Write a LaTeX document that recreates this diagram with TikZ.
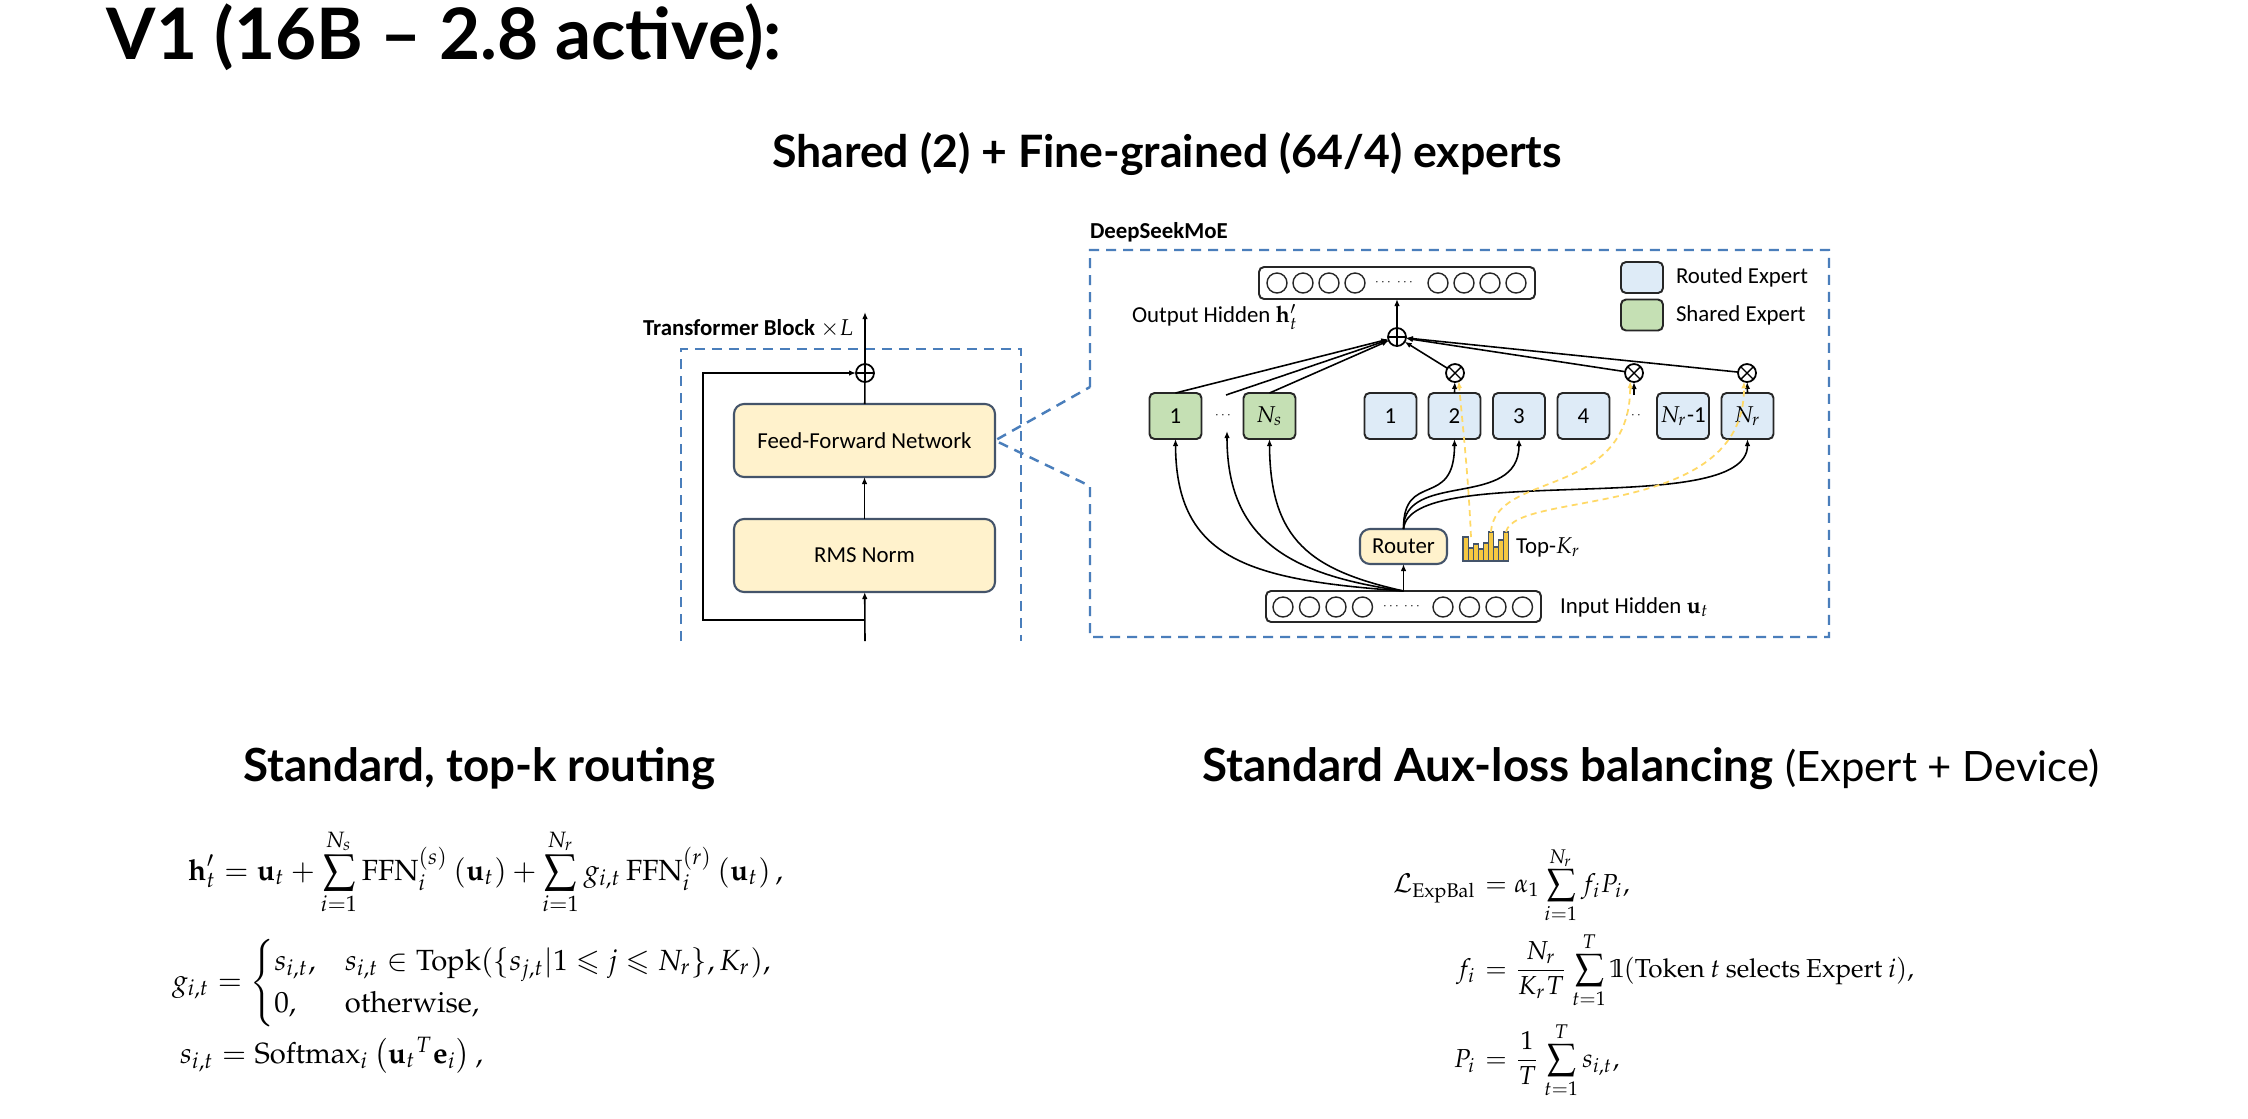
\documentclass[tikz,border=0pt]{standalone}
\usepackage{amsmath,amssymb}
\usepackage{mathpazo}
\usepackage[no-math]{fontspec}
\setmainfont{Carlito}
\newfontfamily\headfont{Lato}
\DeclareMathAlphabet{\mathpzbb}{U}{fplmbb}{m}{n}
\usetikzlibrary{arrows.meta,positioning}

\definecolor{moeblue}{HTML}{4A7EBB}
\definecolor{ffnfill}{HTML}{FFF2CC}
\definecolor{ffnline}{HTML}{44546A}
\definecolor{routedfill}{HTML}{DEEBF7}
\definecolor{sharedfill}{HTML}{C5E0B4}
\definecolor{boxline}{HTML}{262626}
\definecolor{topkgold}{HTML}{FFD966}
\definecolor{barfill}{HTML}{F5C842}

\newcommand{\dgfont}{\fontsize{6.5}{7.5}\selectfont}
\newcommand{\eqfont}{\fontsize{7.4}{9}\selectfont}
\newcommand{\eqfontL}{\fontsize{8.3}{10}\selectfont}

\tikzset{
  layerbox/.style={draw=ffnline, fill=ffnfill, rounded corners=1mm, line width=0.6pt,
    minimum width=26.1mm, minimum height=7.3mm, font=\dgfont},
  expert/.style={draw=boxline, rounded corners=0.5mm, line width=0.55pt,
    minimum width=5.2mm, minimum height=4.6mm, font=\dgfont},
  routed/.style={expert, fill=routedfill},
  shared/.style={expert, fill=sharedfill},
  hidbox/.style={draw=boxline, rounded corners=0.5mm, line width=0.55pt,
    minimum width=27.6mm, minimum height=3.2mm},
  unit/.style={circle, draw=boxline, line width=0.4pt, minimum size=2mm},
  sumop/.style={circle, draw, line width=0.5pt, minimum size=1.8mm,
    path picture={\draw[line width=0.4pt]
      (path picture bounding box.north) -- (path picture bounding box.south)
      (path picture bounding box.west) -- (path picture bounding box.east);}},
  mulop/.style={circle, draw, line width=0.5pt, minimum size=1.8mm,
    path picture={\draw[line width=0.4pt]
      (path picture bounding box.north west) -- (path picture bounding box.south east)
      (path picture bounding box.south west) -- (path picture bounding box.north east);}},
  arr/.style={line width=0.45pt, -{Latex[length=0.7mm,width=0.55mm]}},
  moedash/.style={draw=moeblue, line width=0.7pt, dash pattern=on 1mm off 0.7mm},
  topkarr/.style={draw=topkgold, line width=0.5pt, dash pattern=on 0.6mm off 0.45mm,
    -{Latex[length=0.7mm,width=0.55mm]}},
  lbl/.style={font=\dgfont},
  dotslbl/.style={font=\fontsize{3.6}{4}\selectfont},
  headbig/.style={font=\headfont\bfseries\fontsize{20.2}{23}\selectfont},
  headmid/.style={font=\headfont\bfseries\fontsize{12.7}{15}\selectfont},
  headsec/.style={font=\headfont\fontsize{13}{15}\selectfont},
}

\begin{document}
\begin{tikzpicture}[x=0.1mm, y=-0.1mm, every node/.style={inner sep=0pt, outer sep=0pt}]
  \fill[white] (0,0) rectangle (2248,1118);
  \useasboundingbox (0,0) rectangle (2248,1118);

  % titles
  \node[headbig, anchor=base west] (title) at (107,59) {V1 (16B – 2.8 active):};
  \node[headmid, anchor=base west] (subtitle) at (772,167) {Shared (2) + Fine-grained (64/4) experts};

  % transformer block
  \node[lbl, anchor=base west, font=\dgfont\bfseries] (tblabel) at (643,335) {Transformer Block $\times L$};
  \draw[moedash] (681,641) |- (1021,349) -- (1021,641);
  \node[layerbox] (ffn) at (864.5,440.5) {Feed-Forward Network};
  \node[layerbox] (rms) at (864.5,555.5) {RMS Norm};
  \node[sumop] (sumL) at (865,373) {};
  \coordinate (tbin) at (865,641);
  \coordinate (tbres) at (865,620);
  \coordinate (tbout) at (865,312);

  \draw[arr] (tbin) -- (rms);
  \draw[arr] (rms) -- (ffn);
  \draw[line width=0.45pt] (ffn) -- (sumL);
  \draw[arr] (sumL) -- (tbout);
  \draw[arr] (tbres) -- ++(-162,0) |- (sumL);

  % DeepSeekMoE frame, opened towards the FFN
  \node[anchor=base west, font=\dgfont\bfseries] (moelabel) at (1090,238) {DeepSeekMoE};
  \draw[moedash] (1090,387) -- (1090,250) -- (1829,250) -- (1829,637) -- (1090,637)
    -- (1090,486) -- (ffn.east) -- cycle;

  % hidden states
  \node[hidbox] (outbox) at (1397,283) {};
  \node[hidbox, minimum width=27.5mm, minimum height=3.1mm] (inbox) at (1403.5,606.5) {};
  \foreach \k in {0,...,3} {
    \node[unit] (ol\k) at (1277+26*\k,283) {};
    \node[unit] (or\k) at (1438+26*\k,283) {};
    \node[unit] (il\k) at (1283+26.5*\k,607) {};
    \node[unit] (ir\k) at (1443+26.5*\k,607) {};
  }
  \node[dotslbl] (od1) at (1384,283) {$\cdots$};
  \node[dotslbl] (od2) at (1406,283) {$\cdots$};
  \node[dotslbl] (id1) at (1392,607) {$\cdots$};
  \node[dotslbl] (id2) at (1413,607) {$\cdots$};
  \node[lbl, anchor=west] (outlbl) at (1132,317) {Output Hidden $\mathbf{h}_t'$};
  \node[lbl, anchor=west] (inlbl) at (1560,607) {Input Hidden $\mathbf{u}_t$};

  % legend
  \node[routed, minimum width=4.2mm, minimum height=3.1mm] (legR) at (1642,277.5) {};
  \node[shared, minimum width=4.2mm, minimum height=3.1mm] (legS) at (1642,315) {};
  \node[lbl, right=1.3mm of legR] (legRtxt) {Routed Expert};
  \node[lbl, right=1.3mm of legS] (legStxt) {Shared Expert};

  % experts
  \node[shared] (s1) at (1175.5,416) {1};
  \node[dotslbl] (sdots) at (1224,416) {$\cdots$};
  \node[shared] (sNs) at (1269.5,416) {$N_s$};
  \node[routed] (r1) at (1390.5,416) {1};
  \node[routed] (r2) at (1454.5,416) {2};
  \node[routed] (r3) at (1519,416) {3};
  \node[routed] (r4) at (1583.5,416) {4};
  \node[dotslbl] (rdots) at (1634,416) {$\cdots$};
  \node[routed] (rNm) at (1683,416) {$N_r$-1};
  \node[routed] (rNr) at (1747.5,416) {$N_r$};
  \coordinate (sdotsin) at (1227,431);
  \coordinate (sdotsout) at (1226,395);
  \coordinate (rdotsout) at (1634,395);

  % combine
  \node[sumop] (sum) at (1397,337) {};
  \node[mulop] (mul2) at (1455,373) {};
  \node[mulop] (mulmid) at (1634,373) {};
  \node[mulop] (mulNr) at (1747,373) {};
  \draw[arr] (sum) -- (outbox.south);
  \draw[arr] (s1.north) -- (sum);
  \draw[arr] (sdotsout) -- (sum);
  \draw[arr] (sNs.north) -- (sum);
  \draw[arr] (mul2) -- (sum);
  \draw[arr] (mulmid) -- (sum);
  \draw[arr] (mulNr) -- (sum);
  \draw[arr] (r2.north) -- (mul2);
  \draw[arr] (rdotsout) -- (mulmid);
  \draw[arr] (rNr.north) -- (mulNr);

  % router
  \node[layerbox, minimum width=8.7mm, minimum height=3.5mm] (router) at (1403.5,546.5) {Router};
  \draw[arr] (inbox.north) -- (router.south);
  \draw[arr] (inbox.north) .. controls (1250,580) and (1176,560) .. (s1.south);
  \draw[arr] (inbox.north) .. controls (1290,575) and (1227,540) .. (sdotsin);
  \draw[arr] (inbox.north) .. controls (1310,570) and (1270,540) .. (sNs.south);
  \draw[arr] (router.north) .. controls (1403,470) and (1454.5,510) .. (r2.south);
  \draw[arr] (router.north) .. controls (1403,470) and (1519,510) .. (r3.south);
  \draw[arr] (router.north) .. controls (1410,460) and (1747.5,520) .. (rNr.south);

  % top-k scores
  \foreach \h [count=\k from 0] in {24,13,17,12,18,29,14,21,29}
    \draw[draw=ffnline, fill=barfill, line width=0.3pt] (1463+\k*5.1,561) rectangle ++(5.1,-\h);
  \coordinate (k1) at (1471,537);
  \coordinate (k2) at (1491,532);
  \coordinate (k3) at (1506,532);
  \node[lbl, anchor=west] (topklbl) at (1516,547) {Top-$K_r$};
  \draw[topkarr] (k1) .. controls (1468,470) and (1462,420) .. (mul2.-65);
  \draw[topkarr] (k2) .. controls (1495,470) and (1630,500) .. (mulmid.-115);
  \draw[topkarr] (k3) .. controls (1515,490) and (1745,520) .. (mulNr.-110);

  % section headings
  \node[headsec, anchor=base west] (routhead) at (243,781) {\bfseries Standard, top-k routing};
  \node[headsec, anchor=base west] (balhead) at (1202,781)
    {{\bfseries Standard Aux-loss balancing} {\fontsize{11.9}{15}\selectfont(Expert + Device)}};

  % routing equations
  \node[font=\eqfontL, anchor=base west] (eqh) at (188,880)
    {$\displaystyle \mathbf{h}_t' = \mathbf{u}_t + \sum_{i=1}^{N_s} \mathrm{FFN}_i^{(s)}\left(\mathbf{u}_t\right) + \sum_{i=1}^{N_r} g_{i,t}\,\mathrm{FFN}_i^{(r)}\left(\mathbf{u}_t\right),$};
  \node[font=\eqfontL, anchor=base west] (eqg) at (172,990)
    {$g_{i,t} = \begin{cases} s_{i,t}, & s_{i,t} \in \mathrm{Topk}(\{ s_{j,t} | 1 \leqslant j \leqslant N_r \}, K_r), \\ 0, & \mathrm{otherwise}, \end{cases}$};
  \node[font=\eqfontL, anchor=base west] (eqs) at (180,1063)
    {$s_{i,t} = \mathrm{Softmax}_i \left({\mathbf{u}_t}^{T} \mathbf{e}_i\right),$};

  % balance equations
  \node[font=\eqfont, anchor=base east] (eqLl) at (1476,892) {$\mathcal{L}_{\mathrm{ExpBal}}$};
  \node[font=\eqfont, anchor=base west] (eqLr) at (1478,892)
    {$\displaystyle {}= \alpha_1 \sum_{i=1}^{N_r} f_i P_i,$};
  \node[font=\eqfont, anchor=base east] (eqfl) at (1476,977) {$f_i$};
  \node[font=\eqfont, anchor=base west] (eqfr) at (1478,977)
    {$\displaystyle {}= \frac{N_r}{K_r T} \sum_{t=1}^{T} \mathpzbb{1}(\mathrm{Token}\ t\ \mathrm{selects\ Expert}\ i),$};
  \node[font=\eqfont, anchor=base east] (eqPl) at (1476,1067) {$P_i$};
  \node[font=\eqfont, anchor=base west] (eqPr) at (1478,1067)
    {$\displaystyle {}= \frac{1}{T} \sum_{t=1}^{T} s_{i,t},$};
\end{tikzpicture}
\end{document}
